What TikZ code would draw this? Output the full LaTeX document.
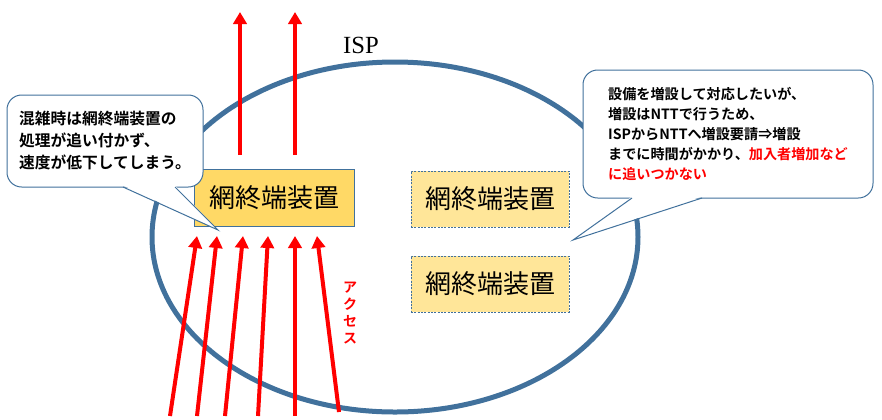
\documentclass[tikz,border=0pt]{standalone}
\usepackage{fontspec}
\setmainfont{Noto Sans CJK JP}[BoldFont={Noto Sans CJK JP Bold}]
\newfontfamily\ispfont{Liberation Serif}
\usetikzlibrary{arrows.meta}
\definecolor{ispblue}{HTML}{41719C}
\definecolor{bgold}{HTML}{FFD966}
\definecolor{lgold}{HTML}{FFE699}
\tikzset{
  redarrow/.style={-{Triangle[length=9pt,width=10pt]}, line width=3pt, red},
  brasbox/.style={draw=ispblue, line width=0.75pt, fill=bgold, minimum width=120pt, minimum height=42.75pt, inner sep=0pt, font=\fontsize{19.5pt}{22pt}\selectfont},
  sparebox/.style={brasbox, fill=lgold, dash pattern=on 1.5pt off 1pt, line width=0.6pt, minimum width=118.5pt, minimum height=42pt},
  notebox/.style={draw=ispblue, line width=0.75pt, fill=white, rounded corners=11pt, align=left, inner sep=0pt},
  notetail/.style={draw=ispblue, line width=0.75pt, line join=miter}
}

\begin{document}
\begin{tikzpicture}[x=0.75pt, y=-0.75pt]
    \useasboundingbox (0,0) rectangle (882,419);
    % ISP network
    \draw[ispblue, line width=3.75pt] (395,237) ellipse [x radius=243, y radius=175];
    \node[font=\ispfont\fontsize{18.5pt}{20pt}\selectfont] (isp) at (361,45) {ISP};
    \node[brasbox] (bras1) at (274,197.5) {網終端装置};
    \node[sparebox] (bras2) at (490,199) {網終端装置};
    \node[sparebox] (bras3) at (490,284) {網終端装置};
    % upstream
    \coordinate (up1) at (240,155);
    \coordinate (up2) at (295,155);
    \coordinate (out1) at (240,12);
    \coordinate (out2) at (295,12);
    \draw[redarrow] (up1) -- (out1);
    \draw[redarrow] (up2) -- (out2);
    % access lines
    \coordinate (in1) at (170,416);
    \coordinate (in2) at (197,416);
    \coordinate (in3) at (225,416);
    \coordinate (in4) at (258,416);
    \coordinate (in5) at (295,416);
    \coordinate (in6) at (339,412);
    \coordinate (acc1) at (197,236);
    \coordinate (acc2) at (217,236);
    \coordinate (acc3) at (243,236);
    \coordinate (acc4) at (268,236);
    \coordinate (acc5) at (295,236);
    \coordinate (acc6) at (317,236);
    \draw[redarrow] (in1) -- (acc1);
    \draw[redarrow] (in2) -- (acc2);
    \draw[redarrow] (in3) -- (acc3);
    \draw[redarrow] (in4) -- (acc4);
    \draw[redarrow] (in5) -- (acc5);
    \draw[redarrow] (in6) -- (acc6);
    \node[red, align=center, font=\bfseries\fontsize{10.5pt}{12.75pt}\selectfont] (access) at (350,313) {ア\\ク\\セ\\ス};
    % callouts
    \node[notebox, minimum width=147pt, minimum height=69pt, font=\bfseries\fontsize{11.8pt}{16.5pt}\selectfont] (note1) at (105,141)
      {混雑時は網終端装置の\\処理が追い付かず、\\速度が低下してしまう。};
    \coordinate (tip1) at (218,230);
    \fill[white] (123,185.5) -- (tip1) -- (175,185.5) -- cycle;
    \draw[notetail] (123,187) -- (tip1) -- (175,187);
    \node[notebox, minimum width=217.5pt, minimum height=96pt, font=\bfseries\fontsize{10.6pt}{15pt}\selectfont] (note2) at (728,134)
      {設備を増設して対応したいが、\\増設はNTTで行うため、\\ISPからNTTへ増設要請⇒増設\\までに時間がかかり、\textcolor{red}{加入者増加など}\\\textcolor{red}{に追いつかない}};
    \coordinate (tip2) at (573,240);
    \fill[white] (632,196.5) -- (tip2) -- (702,196.5) -- cycle;
    \draw[notetail] (632,198) -- (tip2) -- (702,198);
\end{tikzpicture}
\end{document}
